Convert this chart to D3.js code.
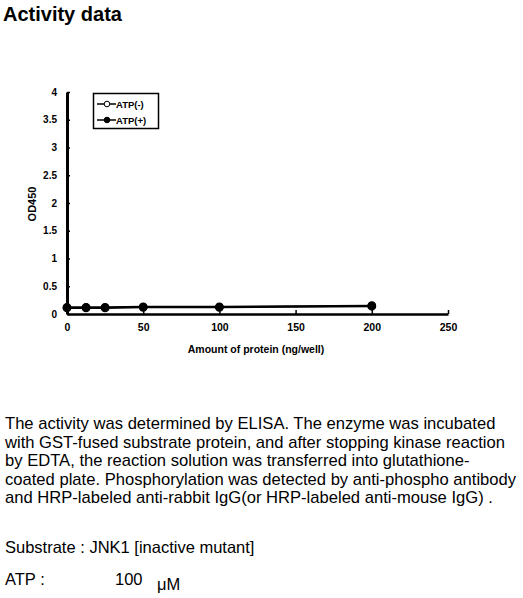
<!DOCTYPE html>
<html>
<head>
	<script type="text/javascript" src="https://cdn.jsdelivr.net/npm/d3@7/dist/d3.min.js"></script>
	<style>
		body { margin: 0; background: #fff; }
		svg { font-family: Arial, "Liberation Sans", sans-serif; }
	</style>
</head>
<body>
	<script type="text/javascript">

		// data
		var protein = [0, 12.5, 25, 50, 100, 200];
		var atpMinus = [0.11, 0.11, 0.11, 0.12, 0.12, 0.14];
		var atpPlus = [0.12, 0.12, 0.12, 0.13, 0.13, 0.15];
		var xTicks = [0, 50, 100, 150, 200, 250];
		var yTicks = [0, 0.5, 1, 1.5, 2, 2.5, 3, 3.5, 4];
		var seriesNames = ['ATP(-)', 'ATP(+)'];

		var paragraph = [
			'The activity was determined by ELISA. The enzyme was incubated',
			'with GST-fused substrate protein, and after stopping kinase reaction',
			'by EDTA, the reaction solution was transferred into glutathione-',
			'coated plate. Phosphorylation was detected by anti-phospho antibody',
			'and HRP-labeled anti-rabbit IgG(or HRP-labeled anti-mouse IgG) .'
		];

		var width = 523, height = 598;

		var svg = d3.select('body')
			.append('svg')
			.attr('width', width)
			.attr('height', height);

		// title
		svg.append('text')
			.attr('x', 3)
			.attr('y', 21)
			.attr('font-size', 20)
			.attr('font-weight', 'bold')
			.text('Activity data');

		// scales
		var xScale = d3.scaleLinear()
			.domain([0, 250])
			.range([67, 448]);

		var yScale = d3.scaleLinear()
			.domain([0, 4])
			.range([314, 92]);

		// axes
		var xAxis = svg.append('g')
			.attr('transform', 'translate(0,' + yScale(0) + ')')
			.call(d3.axisBottom(xScale)
				.tickValues(xTicks)
				.tickFormat(d3.format('d'))
				.tickSizeInner(-4)
				.tickSizeOuter(0)
				.tickPadding(10));

		xAxis.select('.domain').attr('stroke-width', 2.5);
		xAxis.selectAll('.tick line').attr('stroke-width', 1.5);
		xAxis.selectAll('text')
			.attr('font-size', 10.5)
			.attr('font-weight', 'bold')
			.attr('font-family', 'Arial, "Liberation Sans", sans-serif');

		var yAxis = svg.append('g')
			.attr('transform', 'translate(' + xScale(0) + ',0)')
			.call(d3.axisLeft(yScale)
				.tickValues(yTicks)
				.tickFormat(function(d) { return d; })
				.tickSizeInner(-3)
				.tickSizeOuter(0)
				.tickPadding(10));

		yAxis.select('.domain').attr('stroke-width', 3);
		yAxis.selectAll('.tick line').attr('stroke-width', 1.5);
		yAxis.selectAll('text')
			.attr('font-size', 10)
			.attr('font-weight', 'bold')
			.attr('font-family', 'Arial, "Liberation Sans", sans-serif');

		// axis titles
		svg.append('text')
			.attr('x', 256)
			.attr('y', 353)
			.attr('text-anchor', 'middle')
			.attr('font-size', 10.5)
			.attr('font-weight', 'bold')
			.text('Amount of protein (ng/well)');

		svg.append('text')
			.attr('transform', 'translate(36,204) rotate(-90)')
			.attr('text-anchor', 'middle')
			.attr('font-size', 11)
			.attr('font-weight', 'bold')
			.text('OD450');

		// series
		var line = d3.line()
			.x(function(d) { return xScale(d[0]); })
			.y(function(d) { return yScale(d[1]); });

		var series = [
			{ name: seriesNames[0], values: d3.zip(protein, atpMinus), fill: '#fff' },
			{ name: seriesNames[1], values: d3.zip(protein, atpPlus), fill: '#000' }
		];

		series.forEach(function(s) {
			svg.append('path')
				.datum(s.values)
				.attr('d', line)
				.attr('fill', 'none')
				.attr('stroke', '#000')
				.attr('stroke-width', 2);

			svg.selectAll(null)
				.data(s.values)
				.enter()
				.append('circle')
				.attr('cx', function(d) { return xScale(d[0]); })
				.attr('cy', function(d) { return yScale(d[1]); })
				.attr('r', 3.8)
				.attr('fill', s.fill)
				.attr('stroke', '#000')
				.attr('stroke-width', 1.2);
		});

		// legend
		var legend = svg.append('g');
		legend.append('rect')
			.attr('x', 93.5)
			.attr('y', 93.5)
			.attr('width', 65)
			.attr('height', 35)
			.attr('fill', '#fff')
			.attr('stroke', '#000')
			.attr('stroke-width', 1.5);

		series.forEach(function(s, i) {
			var ly = 104 + i * 16;
			legend.append('line')
				.attr('x1', 97).attr('x2', 116)
				.attr('y1', ly).attr('y2', ly)
				.attr('stroke', '#000')
				.attr('stroke-width', 1.5);
			legend.append('circle')
				.attr('cx', 107).attr('cy', ly)
				.attr('r', 2.8)
				.attr('fill', s.fill)
				.attr('stroke', '#000')
				.attr('stroke-width', 1);
			legend.append('text')
				.attr('x', 116)
				.attr('y', ly + 3.5)
				.attr('font-size', 9.5)
				.attr('font-weight', 'bold')
				.text(s.name);
		});

		// description text
		svg.selectAll('.para')
			.data(paragraph)
			.enter()
			.append('text')
			.attr('class', 'para')
			.attr('x', 5)
			.attr('y', function(d, i) { return 429 + i * 18.6; })
			.attr('font-size', 16.6)
			.text(function(d) { return d; });

		svg.append('text')
			.attr('x', 5)
			.attr('y', 553)
			.attr('font-size', 16.5)
			.text('Substrate : JNK1 [inactive mutant]');

		svg.append('text')
			.attr('x', 5)
			.attr('y', 585)
			.attr('font-size', 16.5)
			.text('ATP :');

		svg.append('text')
			.attr('x', 115)
			.attr('y', 585)
			.attr('font-size', 16.5)
			.text('100');

		svg.append('text')
			.attr('x', 157)
			.attr('y', 590)
			.attr('font-size', 16.5)
			.text('μM');

	</script>
</body>
</html>
